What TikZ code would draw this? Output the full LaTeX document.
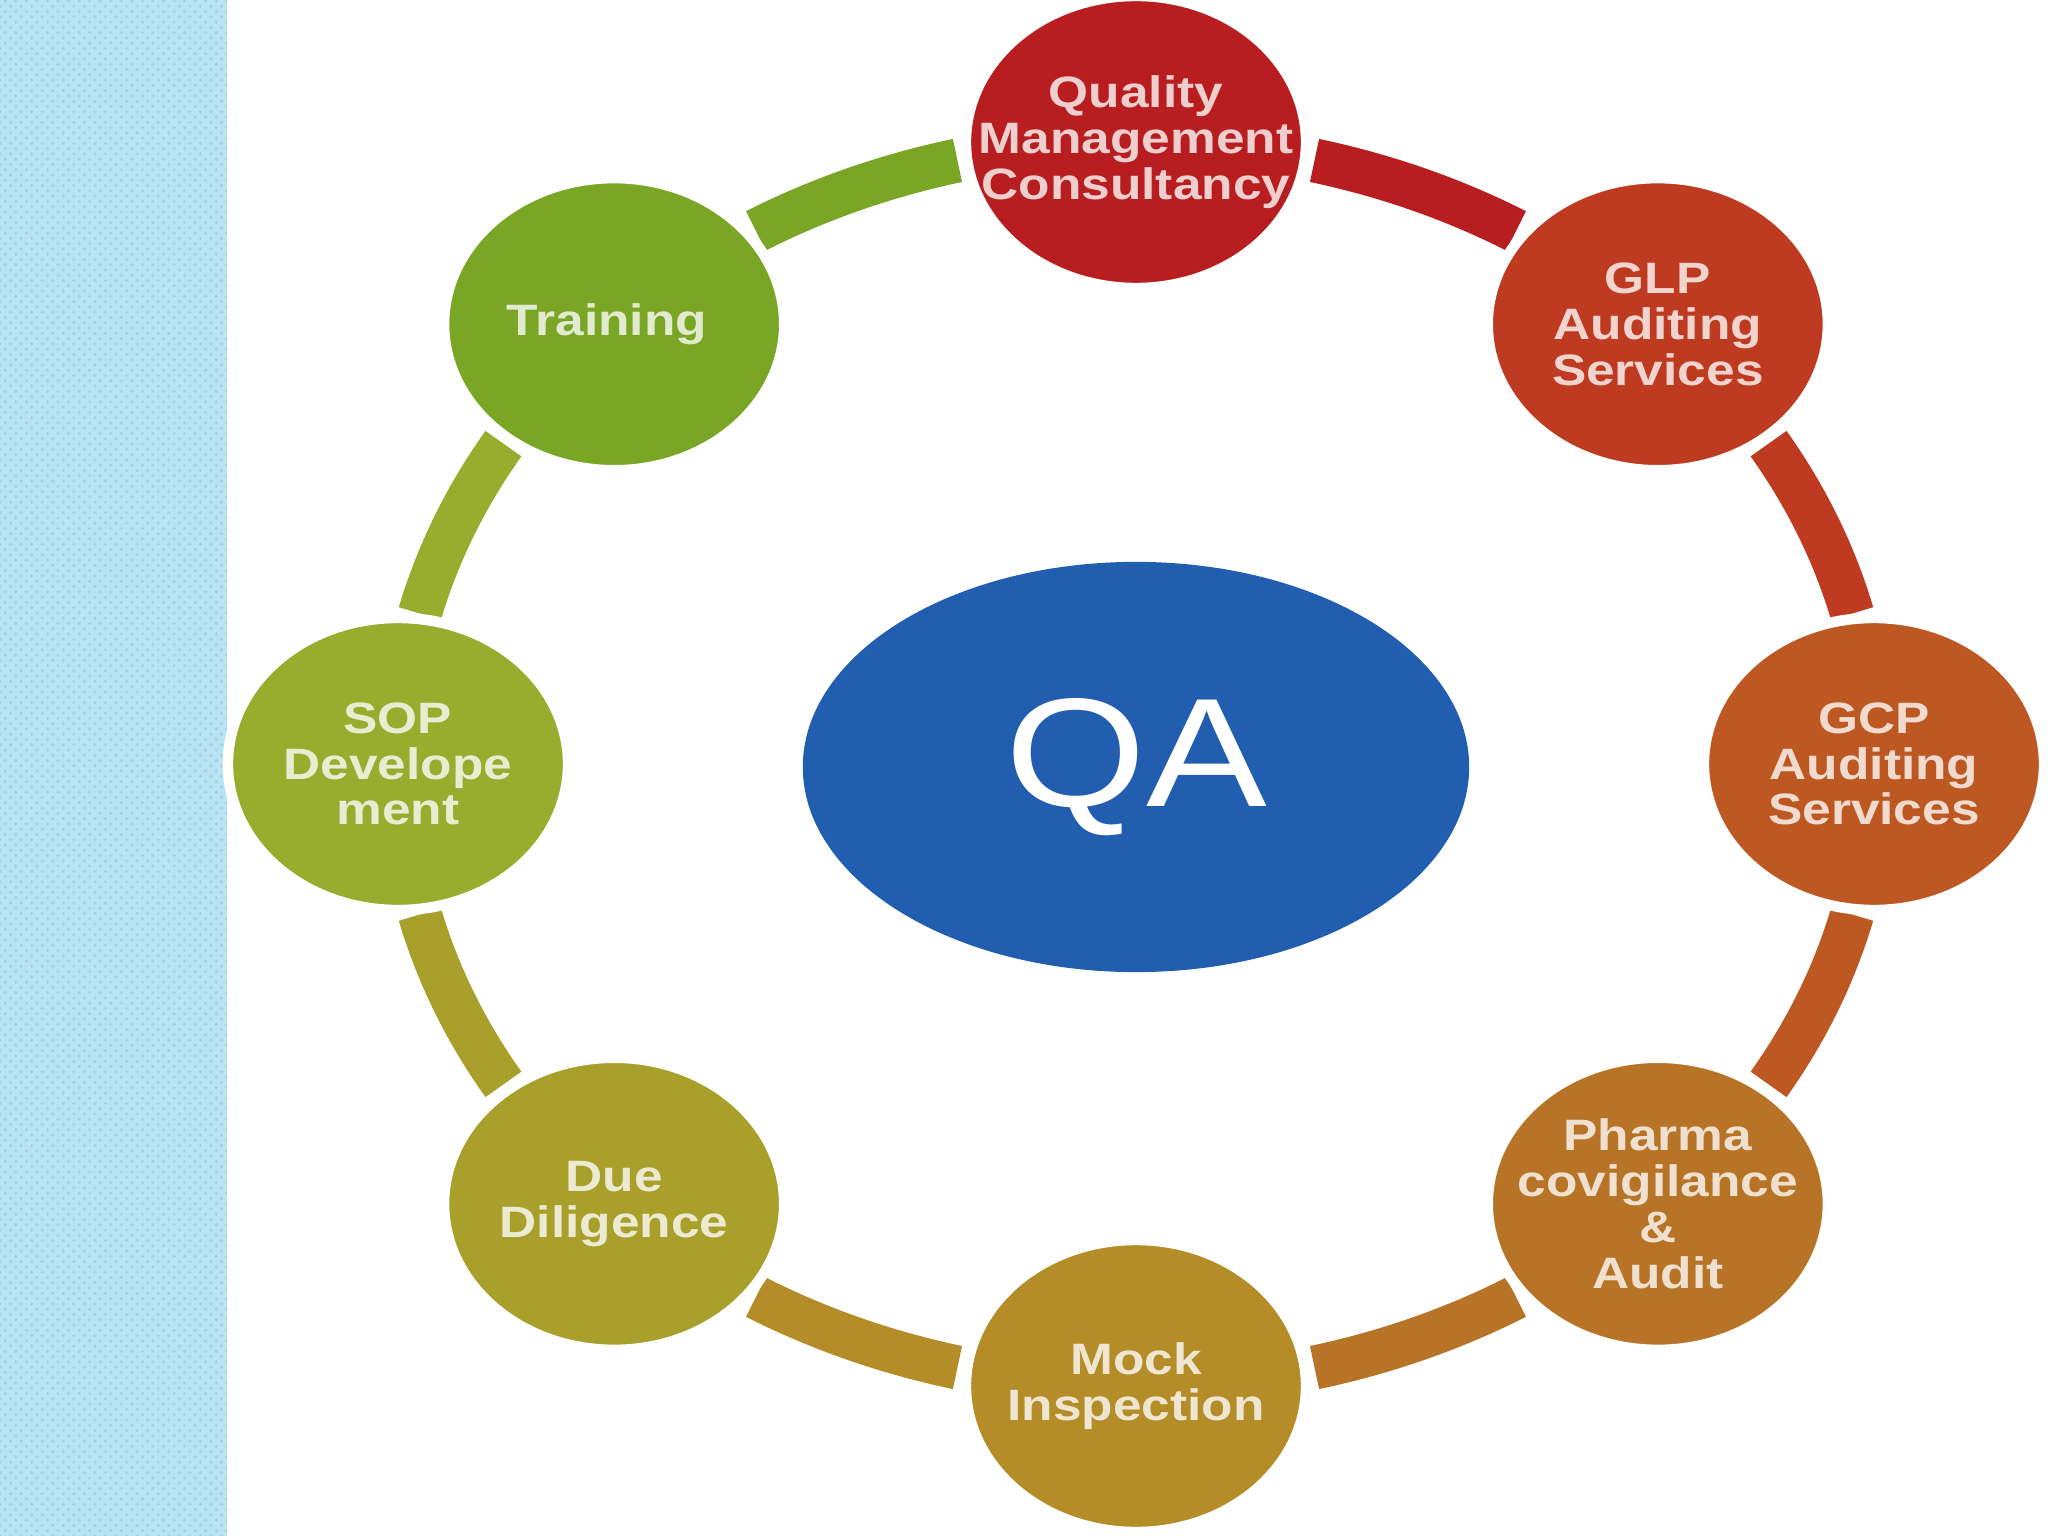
\documentclass[tikz,border=0pt]{standalone}
\usepackage{fontspec}
\setmainfont{Liberation Sans}
\newfontfamily\bubbleFont[FakeStretch=1.17]{Liberation Sans}
\usetikzlibrary{shapes.geometric,patterns,calc}

\definecolor{qualityRed}{RGB}{184,30,32}
\definecolor{glpRed}{RGB}{190,58,32}
\definecolor{gcpOrange}{RGB}{190,88,34}
\definecolor{pharmaOrange}{RGB}{184,116,38}
\definecolor{mockGold}{RGB}{180,140,40}
\definecolor{dueOlive}{RGB}{168,160,42}
\definecolor{sopGreen}{RGB}{152,172,46}
\definecolor{trainGreen}{RGB}{122,166,38}
\definecolor{qaBlue}{RGB}{34,94,176}
\definecolor{stripBlue}{RGB}{186,228,244}
\definecolor{stripDot}{RGB}{160,210,232}

\tikzset{
  bubble/.style={ellipse, minimum width=3.4cm, minimum height=2.92cm, inner sep=0pt,
    draw=white, line width=3pt},
  bubbletext/.style={align=center, inner sep=0pt,
    font=\bubbleFont\bfseries\fontsize{12.5}{13}\selectfont},
  band/.style={line width=0.44cm}
}

\begin{document}
\begin{tikzpicture}[x=0.01cm,y=0.01cm]

\def\rx{738}
\def\ry{622}
\def\gapAngle{14}

\useasboundingbox (-1136,-772) rectangle (912,764);

%% the side strip
\fill[stripBlue] (-1136,-772) rectangle (-909,764);
\fill[pattern=crosshatch dots, pattern color=stripDot] (-1136,-772) rectangle (-909,764);

%% the center
\node[ellipse, fill=qaBlue, minimum width=6.66cm, minimum height=4.1cm, inner sep=0pt,
  text=white, font=\bubbleFont\fontsize{44}{44}\selectfont] (qa) at (0,-3) {QA};

%% the ring of bubbles, clockwise from the top
\def\items{
quality/qualityRed/{Quality\\Management\\Consultancy},
glp/glpRed/{GLP\\Auditing\\Services},
gcp/gcpOrange/{GCP\\Auditing\\Services},
pharma/pharmaOrange/{Pharma\\covigilance\\\&\\Audit},
mock/mockGold/{Mock\\Inspection},
due/dueOlive/{Due\\Diligence},
sop/sopGreen/{SOP\\Develope\\ment},
training/trainGreen/{Training}
}

\foreach \name/\col/\txt [count=\ni] in \items
{
\pgfmathsetmacro\cAngle{90-(\ni-1)*45}
\pgfmathsetmacro\aStart{\cAngle-\gapAngle}
\pgfmathsetmacro\aEnd{\cAngle-45+\gapAngle}
\coordinate (\name-out) at ({\rx*cos(\aStart)},{\ry*sin(\aStart)});
\draw[band, color=\col] (\name-out) arc[start angle=\aStart, end angle=\aEnd, x radius=\rx, y radius=\ry];
\node[bubble, fill=\col] (\name) at ({\rx*cos(\cAngle)},{\ry*sin(\cAngle)}) {};
\node[bubbletext, text=white!78!\col] (\name-text) at (\name) {\txt};
}

\end{tikzpicture}
\end{document}
